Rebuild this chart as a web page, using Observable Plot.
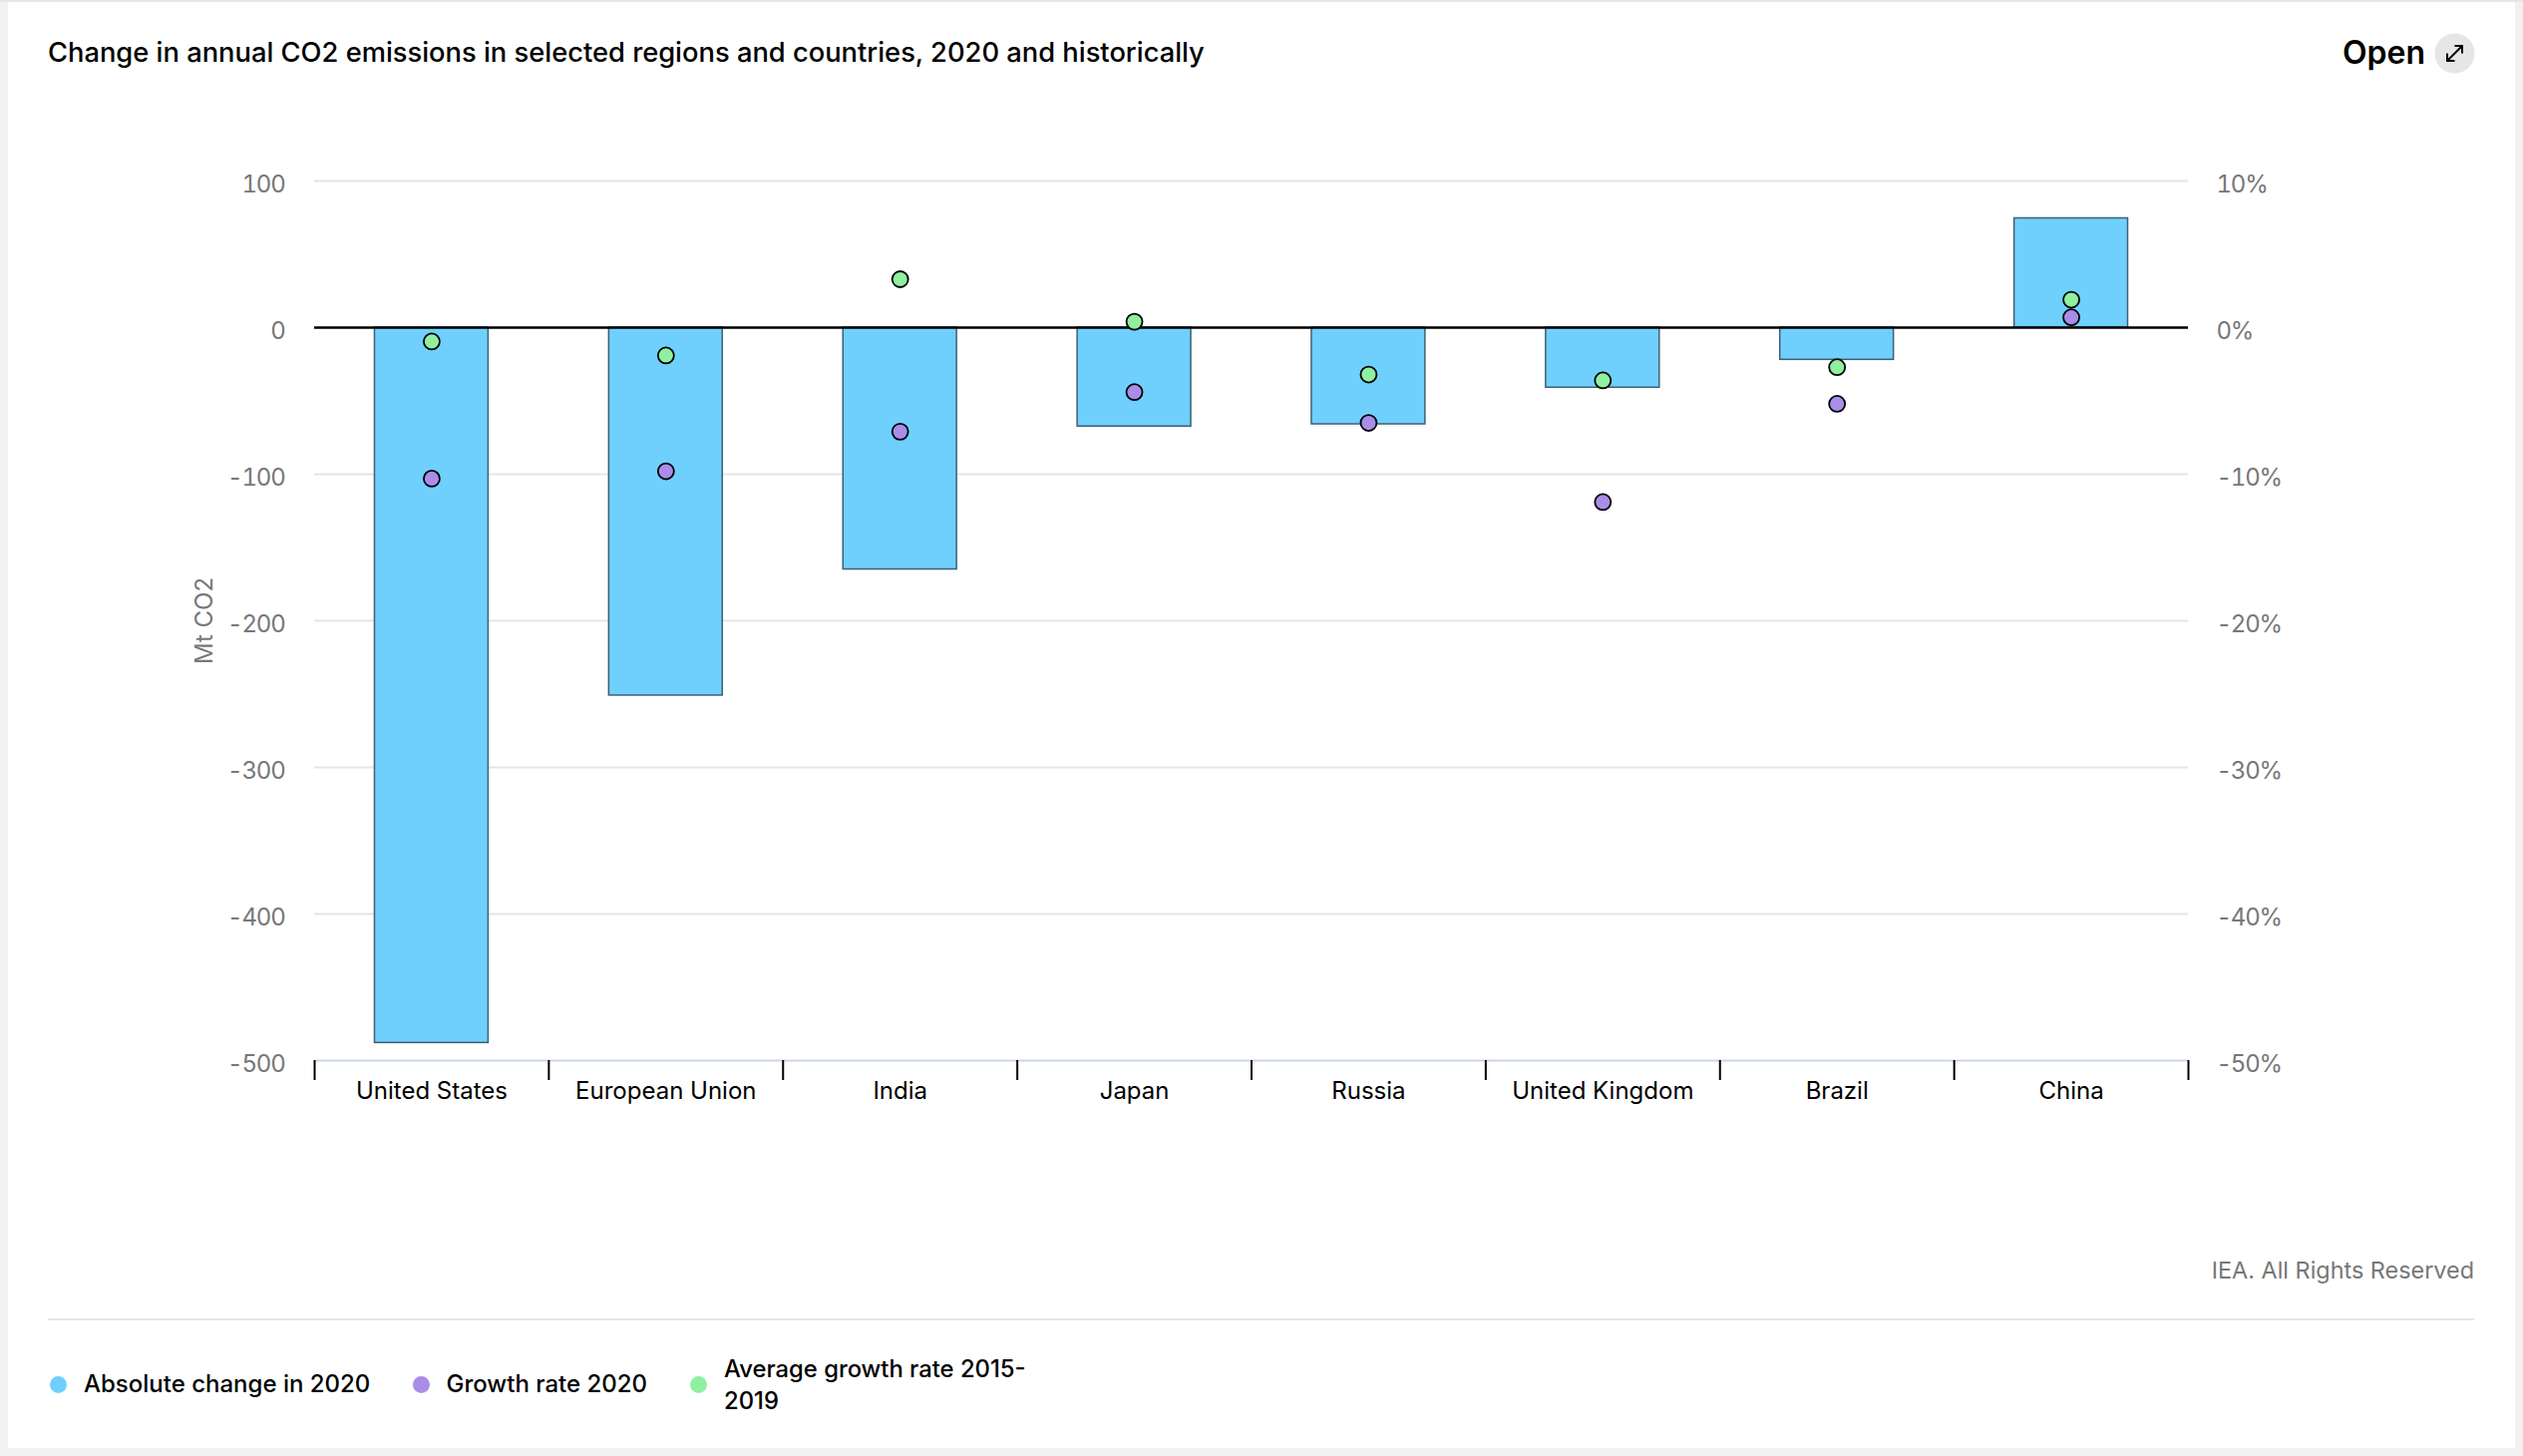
<!DOCTYPE html>
<html><head><meta charset="utf-8">
<script src="https://cdn.jsdelivr.net/npm/d3@7"></script>
<script src="https://cdn.jsdelivr.net/npm/@observablehq/plot@0.6"></script>
<style>
html,body{margin:0;padding:0;background:#f1f1f1;font-family:Inter,sans-serif;}
#page{position:relative;width:2530px;height:1460px;overflow:hidden;background:#f1f1f1;}
#topstrip{position:absolute;left:0;top:0;width:2530px;height:2px;background:#e6e6e6;}
#card{position:absolute;left:8px;top:2px;width:2514px;height:1450px;background:#fff;}
#title{position:absolute;left:48px;top:35px;font-size:27.3px;font-weight:500;color:#000;white-space:nowrap;line-height:36px;}
#open{position:absolute;left:2349px;top:33px;font-size:32px;font-weight:600;color:#000;line-height:40px;}
#icon{position:absolute;left:2441px;top:33px;}
#chart{position:absolute;left:0;top:100px;}
#chart svg text{font-feature-settings:"calt" 0;}
#chart svg g[aria-label="y-axis tick label"] text{letter-spacing:-1.2px;}
#credit{position:absolute;right:49px;top:1259px;font-size:23.4px;color:#777;line-height:30px;white-space:nowrap;}
#rule{position:absolute;left:48px;top:1322px;width:2433px;height:2px;background:#e6e6e6;}
.li{position:absolute;font-size:24px;font-weight:500;color:#000;line-height:31.5px;white-space:nowrap;}
.dot{position:absolute;width:17px;height:17px;border-radius:50%;}
</style></head><body>
<div id="page">
<div id="topstrip"></div><div id="card"></div>
<div id="title">Change in annual CO2 emissions in selected regions and countries, 2020 and historically</div>
<div id="open">Open</div>
<svg id="icon" width="41" height="41" viewBox="0 0 41 41"><circle cx="20.5" cy="20.5" r="20" fill="#e6e6e6"/><path d="M13.5 27.5L27.5 13.5M20.5 13H28V20.5M13 20.5V28H20.5" fill="none" stroke="#000" stroke-width="2"/></svg>
<div id="chart"></div>
<div id="credit">IEA. All Rights Reserved</div>
<div id="rule"></div>
<div id="legend"></div>
</div>
<script>
const categories = ["United States","European Union","India","Japan","Russia","United Kingdom","Brazil","China"];
const absoluteChange = [-488,-251,-165,-67.5,-66,-41,-22,74.5];
const growthRate2020 = [-10.3,-9.8,-7.1,-4.4,-6.5,-11.9,-5.2,0.7];
const averageGrowth = [-0.95,-1.9,3.3,0.4,-3.2,-3.6,-2.7,1.9];
const yTicks = [100,0,-100,-200,-300,-400,-500];
const seriesNames = ["Absolute change in 2020","Growth rate 2020","Average growth rate 2015-2019"];
const seriesColors = ["#6fd0fd","#a98de9","#8ff0a0"];

const rows = categories.map((c,i)=>({c,abs:absoluteChange[i],rate:growthRate2020[i],avg:averageGrowth[i]}));
const step = (2194-315)/8;
const pctScale = 10; // right axis: 10% lines up with 100 Mt

const plot = Plot.plot({
  width:2530,height:1100,
  marginTop:81,marginBottom:137,marginLeft:315,marginRight:336,
  style:{fontFamily:"Inter, sans-serif",background:"transparent",overflow:"visible"},
  x:{domain:categories,paddingInner:0.515,paddingOuter:0.2575,round:false,axis:null,label:null},
  y:{domain:[-500,100],axis:null,label:null},
  marks:[
    Plot.ruleY(yTicks.filter(d=>d!==0&&d!==-500),{y:d=>d,stroke:"#e6e6e6",strokeWidth:2}),
    Plot.ruleY([-500],{y:d=>d,stroke:"#ccd6eb",strokeWidth:2}),
    Plot.barY(rows,{x:"c",y1:()=>0,y2:"abs",fill:seriesColors[0],stroke:"#3f5f73",strokeWidth:1.5}),
    Plot.ruleY([0],{y:d=>d,stroke:"#000",strokeWidth:2.5}),
    Plot.ruleX(categories,{x:d=>d,y1:()=>-500,y2:()=>-513.6,dx:-step/2,stroke:"#000",strokeWidth:2}),
    Plot.ruleX(categories.slice(-1),{x:d=>d,y1:()=>-500,y2:()=>-513.6,dx:step/2,stroke:"#000",strokeWidth:2}),
    Plot.dot(rows,{x:"c",y:d=>d.avg*pctScale,r:8,fill:seriesColors[2],stroke:"#000",strokeWidth:1.8}),
    Plot.dot(rows,{x:"c",y:d=>d.rate*pctScale,r:8,fill:seriesColors[1],stroke:"#000",strokeWidth:1.8}),
    Plot.axisY({anchor:"left",ticks:yTicks,tickSize:0,tickPadding:30,fontSize:24,color:"#777",dy:4,
      label:"Mt CO2",labelAnchor:"center",labelArrow:"none",labelOffset:120,tickFormat:d=>String(d)}),
    Plot.axisY({anchor:"right",ticks:yTicks,tickSize:0,tickPadding:28,fontSize:24,color:"#777",dy:4,label:null,
      tickFormat:d=>`${d/pctScale}%`}),
    Plot.axisX({anchor:"bottom",tickSize:0,tickPadding:21.5,fontSize:24,color:"#000",label:null})
  ]
});
document.getElementById("chart").appendChild(plot);

const legendPos = [{dot:49.5,text:84},{dot:413.5,text:447.5},{dot:691.5,text:726}];
const legend = document.getElementById("legend");
seriesNames.forEach((n,i)=>{
  const d=document.createElement("div");d.className="dot";
  d.style.cssText=`left:${legendPos[i].dot}px;top:1379.5px;background:${seriesColors[i]}`;
  legend.appendChild(d);
  const t=document.createElement("div");t.className="li";
  t.style.left=legendPos[i].text+"px";
  if(i===2){t.style.top="1357px";t.style.fontSize="23.8px";t.innerHTML="Average growth rate 2015-<br>2019";}
  else{t.style.top="1372px";t.textContent=n;}
  legend.appendChild(t);
});
</script>
</body></html>
